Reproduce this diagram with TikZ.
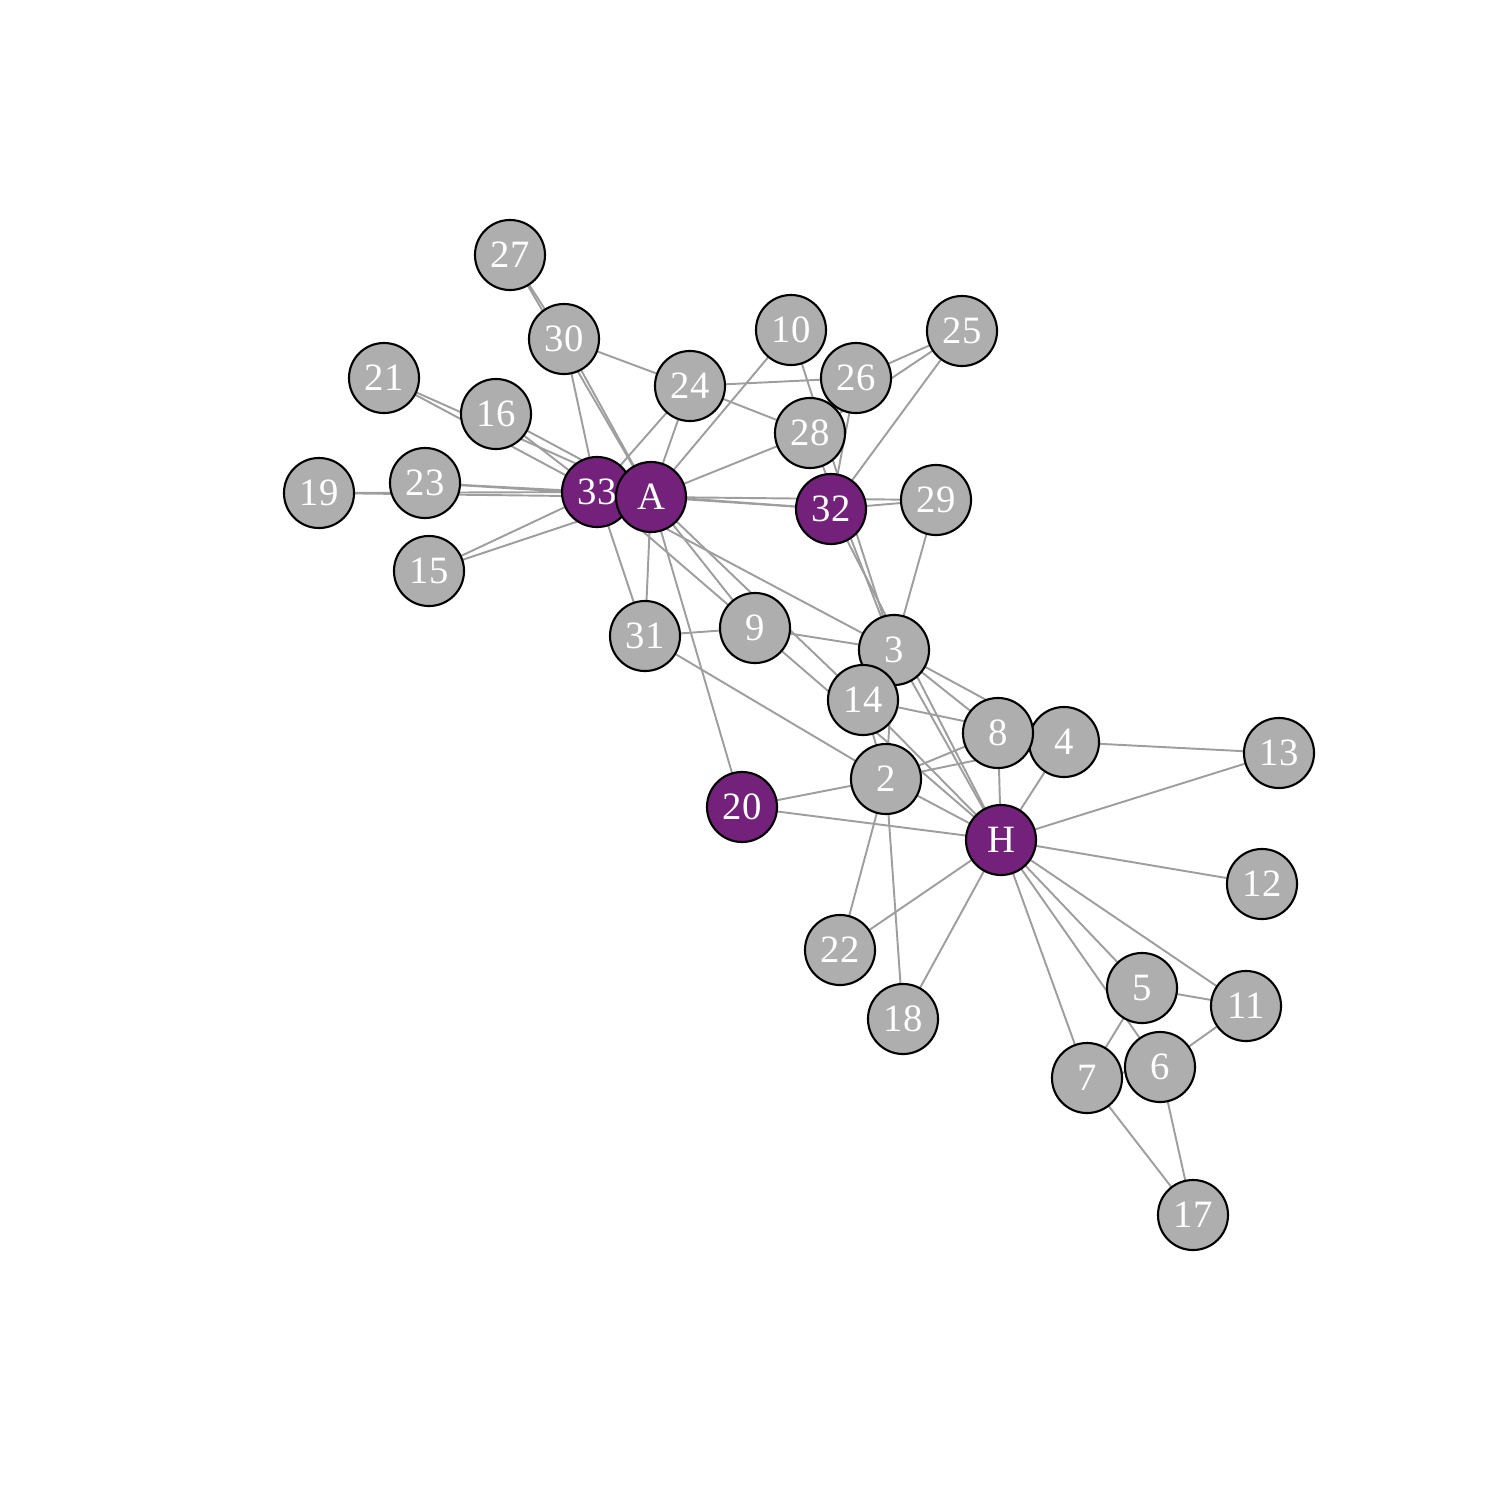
\documentclass[tikz,border=0pt]{standalone}
\usepackage{fontspec}
\setmainfont{Liberation Serif}
\usepackage{xcolor}
\definecolor{vgray}{HTML}{AEAEAE}
\definecolor{vpurple}{HTML}{73217A}
\definecolor{egray}{HTML}{9E9E9E}

\begin{document}
\begin{tikzpicture}[x=0.01cm,y=-0.01cm]
  \tikzstyle{vertex}=[circle,draw=black,line width=0.6pt,fill=vgray,minimum size=0.7cm,inner sep=0pt,text=white,font=\fontsize{11}{12}\selectfont]
  \tikzstyle{leader}=[vertex,fill=vpurple]
  \tikzstyle{tie}=[draw=egray,line width=0.55pt]
  \useasboundingbox (0,0) rectangle (1512,1512);
  % vertices
  \coordinate (p1) at (1001,840);
  \coordinate (p2) at (886,779);
  \coordinate (p3) at (894,650);
  \coordinate (p4) at (1064,742);
  \coordinate (p5) at (1142,988);
  \coordinate (p6) at (1160,1067);
  \coordinate (p7) at (1087,1078);
  \coordinate (p8) at (998,733);
  \coordinate (p9) at (755,628);
  \coordinate (p10) at (791,330);
  \coordinate (p11) at (1246,1006);
  \coordinate (p12) at (1262,884);
  \coordinate (p13) at (1279,753);
  \coordinate (p14) at (863,700);
  \coordinate (p15) at (429,571);
  \coordinate (p16) at (496,414);
  \coordinate (p17) at (1193,1215);
  \coordinate (p18) at (903,1019);
  \coordinate (p19) at (319,493);
  \coordinate (p20) at (742,807);
  \coordinate (p21) at (384,378);
  \coordinate (p22) at (840,950);
  \coordinate (p23) at (425,483);
  \coordinate (p24) at (690,386);
  \coordinate (p25) at (962,331);
  \coordinate (p26) at (856,378);
  \coordinate (p27) at (510,255);
  \coordinate (p28) at (810,433);
  \coordinate (p29) at (936,500);
  \coordinate (p30) at (564,339);
  \coordinate (p31) at (645,636);
  \coordinate (p32) at (831,509);
  \coordinate (p33) at (597,492);
  \coordinate (p34) at (651,497);
  % ties
  \foreach \a/\b in {1/2,1/3,1/4,1/5,1/6,1/7,1/8,1/9,1/11,1/12,1/13,1/14,1/18,1/20,1/22,1/32,
    2/3,2/4,2/8,2/14,2/18,2/20,2/22,2/31,
    3/4,3/8,3/9,3/10,3/14,3/28,3/29,3/33,
    4/8,4/13,4/14,5/7,5/11,6/7,6/11,6/17,7/17,
    9/31,9/33,9/34,10/34,14/34,15/33,15/34,16/33,16/34,19/33,19/34,
    20/34,21/33,21/34,23/33,23/34,24/26,24/28,24/30,24/33,24/34,
    25/26,25/28,25/32,26/32,27/30,27/34,28/34,29/32,29/34,
    30/33,30/34,31/33,31/34,32/33,32/34,33/34}
    \draw[tie] (p\a) -- (p\b);
  % nodes on top
  \node[leader] (n1) at (p1) {H};
  \foreach \i in {2,...,33}{
    \ifnum\i=20 \node[leader] (n\i) at (p\i) {\i};
    \else\ifnum\i=32 \node[leader] (n\i) at (p\i) {\i};
    \else\ifnum\i=33 \node[leader] (n\i) at (p\i) {\i};
    \else \node[vertex] (n\i) at (p\i) {\i};
    \fi\fi\fi
  }
  \node[leader] (n34) at (p34) {A};
\end{tikzpicture}
\end{document}
